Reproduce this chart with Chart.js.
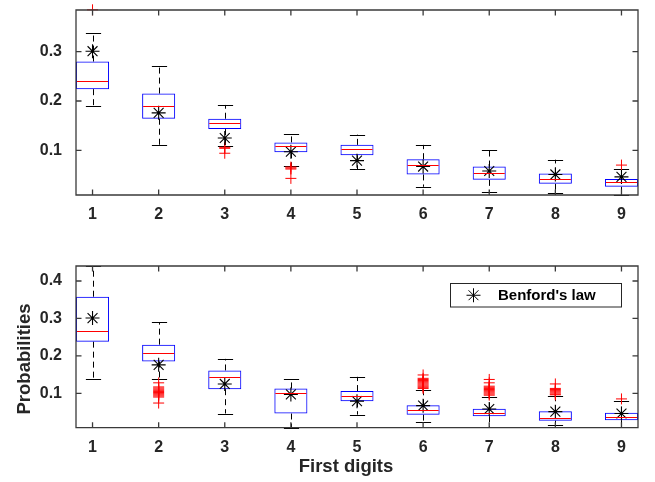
<!DOCTYPE html>
<html>
<head>
<meta charset="utf-8">
<script src="https://cdn.jsdelivr.net/npm/chart.js@4.4.1/dist/chart.umd.min.js"></script>
<style>
  body { margin: 0; background: #fff; }
  #wrap { position: relative; width: 655px; height: 482px; }
  #top, #bottom { position: absolute; left: 0; }
  #top { top: 0; }
  #bottom { top: 240px; }
</style>
</head>
<body>
<div id="wrap">
  <canvas id="top" width="655" height="240"></canvas>
  <canvas id="bottom" width="655" height="242"></canvas>
</div>
<script>
// Categories and tick labels
const digits = ['1', '2', '3', '4', '5', '6', '7', '8', '9'];
const yTicksTop = [0.1, 0.2, 0.3];
const yTicksBottom = [0.1, 0.2, 0.3, 0.4];

// Benford's law reference values
const benford = [0.301, 0.176, 0.125, 0.097, 0.079, 0.067, 0.058, 0.051, 0.046];

// Top panel box statistics
const loTop  = [0.189, 0.111, 0.109, 0.068, 0.062, 0.026, 0.016, 0.013, 0.009];
const q1Top  = [0.224, 0.164, 0.143, 0.096, 0.090, 0.051, 0.040, 0.032, 0.026];
const medTop = [0.241, 0.189, 0.155, 0.109, 0.102, 0.070, 0.054, 0.042, 0.035];
const q3Top  = [0.280, 0.215, 0.164, 0.116, 0.111, 0.082, 0.067, 0.053, 0.042];
const hiTop  = [0.337, 0.272, 0.192, 0.134, 0.132, 0.111, 0.101, 0.081, 0.062];
const outTop = [
  [0.385], [], [0.106, 0.104, 0.094], [0.066, 0.064, 0.062, 0.043],
  [], [], [], [], [0.070],
];

// Bottom panel box statistics
const loBot  = [0.138, 0.139, 0.046, 0.008, 0.043, 0.023, 0.010, 0.015, 0.010];
const q1Bot  = [0.238, 0.185, 0.111, 0.046, 0.079, 0.043, 0.039, 0.027, 0.028];
const medBot = [0.267, 0.209, 0.143, 0.100, 0.093, 0.056, 0.048, 0.035, 0.037];
const q3Bot  = [0.358, 0.230, 0.161, 0.113, 0.106, 0.068, 0.059, 0.052, 0.048];
const hiBot  = [0.440, 0.290, 0.192, 0.138, 0.144, 0.109, 0.090, 0.093, 0.079];
const outBot = [
  [],
  [0.128, 0.117, 0.114, 0.111, 0.108, 0.105, 0.102, 0.099, 0.096, 0.093, 0.090, 0.074],
  [], [], [],
  [0.149, 0.140, 0.137, 0.134, 0.131, 0.128, 0.125, 0.122, 0.119, 0.116, 0.113],
  [0.137, 0.128, 0.119, 0.116, 0.113, 0.110, 0.107, 0.104, 0.101, 0.098, 0.095],
  [0.125, 0.113, 0.110, 0.107, 0.104, 0.101, 0.098, 0.096],
  [0.085],
];

const axisColor = '#262626';
const fontFamily = '"Liberation Sans", Arial, Helvetica, sans-serif';
const capHalf = 0.115; // whisker cap half width, in x units

Chart.defaults.font.family = fontFamily;
Chart.defaults.font.size = 16;
Chart.defaults.font.weight = 'bold';
Chart.defaults.color = axisColor;

// whiskers, caps and median lines
const boxPlugin = (lo, q1, med, q3, hi) => ({
  id: 'boxWhiskers',
  beforeDatasetsDraw(chart) {
    const { ctx, scales: { x, y } } = chart;
    ctx.save();
    digits.forEach((d, i) => {
      const cx = Math.round(x.getPixelForValue(i + 1)) + 0.5;
      const cw = x.getPixelForValue(i + 1 + capHalf) - x.getPixelForValue(i + 1);
      // whiskers
      ctx.strokeStyle = '#000';
      ctx.lineWidth = 1;
      ctx.setLineDash([6, 4]);
      ctx.beginPath();
      ctx.moveTo(cx, y.getPixelForValue(q3[i]));
      ctx.lineTo(cx, y.getPixelForValue(hi[i]));
      ctx.moveTo(cx, y.getPixelForValue(q1[i]));
      ctx.lineTo(cx, y.getPixelForValue(lo[i]));
      ctx.stroke();
      ctx.setLineDash([]);
      // caps
      ctx.beginPath();
      [lo[i], hi[i]].forEach(v => {
        const py = Math.round(y.getPixelForValue(v)) + 0.5;
        ctx.moveTo(cx - cw, py);
        ctx.lineTo(cx + cw, py);
      });
      ctx.stroke();
    });
    ctx.restore();
  },
  afterDatasetsDraw(chart) {
    const { ctx, scales: { y } } = chart;
    const boxMeta = chart.getDatasetMeta(chart.data.datasets.length - 1);
    ctx.save();
    ctx.strokeStyle = '#ff0000';
    ctx.lineWidth = 1;
    ctx.beginPath();
    boxMeta.data.forEach((bar, i) => {
      const py = Math.round(y.getPixelForValue(med[i])) + 0.5;
      ctx.moveTo(bar.x - bar.width / 2 + 1, py);
      ctx.lineTo(bar.x + bar.width / 2 - 1, py);
    });
    ctx.stroke();
    ctx.restore();
  },
});

// box frame with inward ticks on all four sides
const framePlugin = {
  id: 'frame',
  afterDraw(chart) {
    const { ctx, chartArea: a, scales: { x, y } } = chart;
    const tl = 5.5;
    ctx.save();
    ctx.strokeStyle = '#3a3a3a';
    ctx.lineWidth = 1.3;
    ctx.beginPath();
    ctx.rect(a.left, a.top, a.right - a.left, a.bottom - a.top);
    y.ticks.forEach(t => {
      const py = y.getPixelForValue(t.value);
      ctx.moveTo(a.left, py); ctx.lineTo(a.left + tl, py);
      ctx.moveTo(a.right, py); ctx.lineTo(a.right - tl, py);
    });
    x.ticks.forEach(t => {
      const px = x.getPixelForValue(t.value);
      ctx.moveTo(px, a.bottom); ctx.lineTo(px, a.bottom - tl);
      ctx.moveTo(px, a.top); ctx.lineTo(px, a.top + tl);
    });
    ctx.stroke();
    ctx.restore();
  },
};

// legend box and axis labels for the bottom panel
const labelsPlugin = {
  id: 'labels',
  afterDraw(chart) {
    const { ctx } = chart;
    ctx.save();
    // legend
    const lx = 450.5, ly = 43.5, lw = 171, lh = 23.5;
    ctx.fillStyle = '#fff';
    ctx.fillRect(lx, ly, lw, lh);
    ctx.strokeStyle = '#262626';
    ctx.lineWidth = 1;
    ctx.strokeRect(lx, ly, lw, lh);
    ctx.strokeStyle = '#000';
    ctx.lineWidth = 1;
    Chart.helpers.drawPoint(ctx, { pointStyle: 'star', radius: 7, borderWidth: 1 }, 473.5, ly + lh / 2);
    ctx.fillStyle = '#000';
    ctx.font = 'bold 15px ' + fontFamily;
    ctx.textAlign = 'left';
    ctx.textBaseline = 'middle';
    ctx.fillText("Benford's law", 498, ly + lh / 2 + 1);
    // axis titles
    ctx.fillStyle = axisColor;
    ctx.font = 'bold 18.5px ' + fontFamily;
    ctx.textAlign = 'center';
    ctx.textBaseline = 'alphabetic';
    ctx.fillText('First digits', 346, 232);
    ctx.translate(29.5, 119);
    ctx.rotate(-Math.PI / 2);
    ctx.fillText('Probabilities', 0, 0);
    ctx.restore();
  },
};

const makeChart = (id, opts) => {
  const ctx = document.getElementById(id);
  const outliers = [];
  opts.out.forEach((vals, i) => vals.forEach(v => outliers.push({ x: i + 1, y: v })));

  return new Chart(ctx, {
    type: 'bar',
    data: {
      datasets: [
        {
          type: 'scatter',
          label: "Benford's law",
          data: benford.map((v, i) => ({ x: i + 1, y: v })),
          pointStyle: 'star',
          pointRadius: 7,
          borderColor: '#000',
          borderWidth: 1.1,
          clip: false,
        },
        {
          type: 'scatter',
          label: 'Outliers',
          data: outliers,
          pointStyle: 'cross',
          pointRadius: 5.5,
          borderColor: '#ff0000',
          borderWidth: 1,
          clip: false,
        },
        {
          label: 'Boxes',
          data: digits.map((d, i) => ({ x: i + 1, y: [opts.q1[i], opts.q3[i]] })),
          backgroundColor: 'rgba(0,0,0,0)',
          borderColor: '#0000ff',
          borderWidth: 1,
          borderSkipped: false,
          barPercentage: 0.5,
          categoryPercentage: 1,
        },
      ],
    },
    options: {
      responsive: false,
      animation: false,
      events: [],
      layout: {
        autoPadding: false,
        padding: { left: 0, right: 17, top: opts.padTop, bottom: 0 },
      },
      scales: {
        x: {
          type: 'linear',
          min: 0.75,
          max: 9.25,
          offset: false,
          grid: { display: false, drawTicks: false },
          border: { display: false },
          afterBuildTicks: (s) => { s.ticks = digits.map((d, i) => ({ value: i + 1 })); },
          afterFit: (s) => {
            s.height = opts.xHeight;
            s.paddingLeft = 0;
            s.paddingRight = 0;
          },
          ticks: {
            padding: 10,
            callback: (v, i) => digits[i],
          },
        },
        y: {
          min: opts.yMin,
          max: opts.yMax,
          grid: { display: false, drawTicks: false },
          border: { display: false },
          afterBuildTicks: (s) => { s.ticks = opts.yTicks.map(v => ({ value: v })); },
          afterFit: (s) => {
            s.width = 76;
            s.paddingTop = 0;
            s.paddingBottom = 0;
          },
          ticks: {
            padding: 14,
            callback: (v) => v.toFixed(1),
          },
        },
      },
      plugins: {
        legend: { display: false },
        tooltip: { enabled: false },
      },
    },
    plugins: [boxPlugin(opts.lo, opts.q1, opts.med, opts.q3, opts.hi), framePlugin].concat(opts.extra || []),
  });
};

makeChart('top', {
  lo: loTop, q1: q1Top, med: medTop, q3: q3Top, hi: hiTop, out: outTop,
  yMin: 0.0093, yMax: 0.3846, yTicks: yTicksTop,
  padTop: 10, xHeight: 45,
});

makeChart('bottom', {
  lo: loBot, q1: q1Bot, med: medBot, q3: q3Bot, hi: hiBot, out: outBot,
  yMin: 0.0081, yMax: 0.4401, yTicks: yTicksBottom,
  padTop: 26, xHeight: 54.3,
  extra: [labelsPlugin],
});
</script>
</body>
</html>
